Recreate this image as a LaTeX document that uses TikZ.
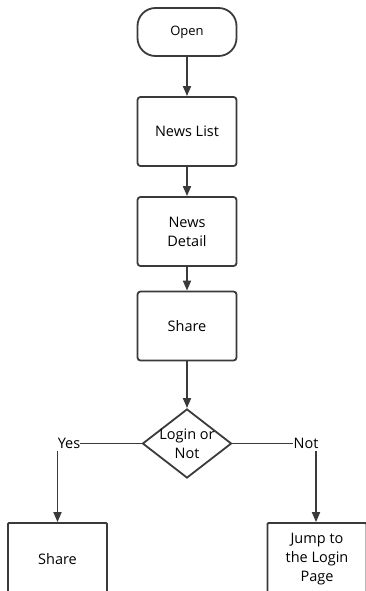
\documentclass[tikz,border=0pt]{standalone}
\usepackage{fontspec}
\setmainfont{Open Sans}
\usetikzlibrary{shapes.geometric,arrows.meta}
\definecolor{linegray}{HTML}{3A3A3A}
\tikzset{
  flowline/.style={draw=linegray, line width=1.8pt},
  flowarrow/.style={flowline, -{Triangle[length=10pt,width=8pt]}},
  procbox/.style={draw=linegray, line width=1.8pt, rounded corners=3pt,
    minimum width=99pt, minimum height=69pt, inner sep=0pt,
    align=center, font=\fontsize{14.5}{19}\selectfont},
  endbox/.style={procbox, rounded corners=1pt, minimum height=72pt},
  termbox/.style={draw=linegray, line width=1.8pt, rounded corners=18pt,
    minimum width=99pt, minimum height=48pt, inner sep=0pt,
    font=\fontsize{13}{16}\selectfont},
  decision/.style={draw=linegray, line width=1.8pt, diamond,
    minimum width=89pt, minimum height=69pt, inner sep=0pt},
  branchlabel/.style={inner sep=0pt, font=\fontsize{14.5}{19}\selectfont},
}
\begin{document}
\begin{tikzpicture}[x=1pt,y=-1pt]
  \useasboundingbox (0,0) rectangle (366,591);
  \clip (0,0) rectangle (366,591);

  % main column
  \node[termbox] (open) at (187,32) {Open};
  \node[procbox] (list) at (187,131.5) {News List};
  \node[procbox] (detail) at (187,231.5) {News\\Detail};
  \node[procbox] (share) at (187,326) {Share};
  \node[decision] (login) at (187,443.5) {};
  \node[align=center, inner sep=0pt, font=\fontsize{14.5}{19}\selectfont]
    (logintext) at (187,443.5) {Login or\\Not};

  % branch targets, running past the lower edge
  \node[endbox] (yesshare) at (57.5,559) {Share};
  \node[endbox] (jump) at (317,559) {Jump to\\the Login\\Page};

  % branch labels
  \node[branchlabel] (yes) at (69,443.5) {Yes};
  \node[branchlabel] (no) at (306,443.5) {Not};

  % connectors
  \draw[flowarrow] (open) -- (list);
  \draw[flowarrow] (list) -- (detail);
  \draw[flowarrow] (detail) -- (share);
  \draw[flowarrow] (share) -- (login);

  \draw[flowline] (login.west) -- (yes.east);
  \draw[flowarrow] (yesshare.north |- yes.south) ++(0,2) -- (yesshare.north);

  \draw[flowline] (login.east) -- (no.west);
  \draw[flowarrow] ([xshift=-1pt]jump.north |- no.south) ++(0,2) -- ([xshift=-1pt]jump.north);
\end{tikzpicture}
\end{document}
